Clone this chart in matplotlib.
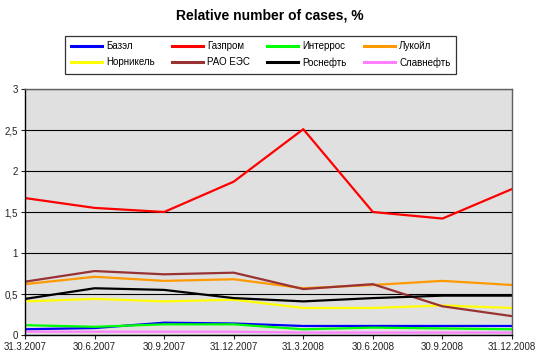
import matplotlib
matplotlib.use("Agg")
import matplotlib.pyplot as plt

plt.rcParams["font.family"] = ["Liberation Sans", "DejaVu Sans"]

dates = ["31.3.2007", "30.6.2007", "30.9.2007", "31.12.2007",
         "31.3.2008", "30.6.2008", "30.9.2008", "31.12.2008"]

bazel = [0.07, 0.085, 0.15, 0.14, 0.11, 0.11, 0.11, 0.11]
gazprom = [1.67, 1.55, 1.50, 1.87, 2.51, 1.50, 1.42, 1.78]
interros = [0.12, 0.10, 0.13, 0.13, 0.07, 0.09, 0.08, 0.07]
lukoil = [0.62, 0.71, 0.66, 0.68, 0.57, 0.61, 0.66, 0.61]
nornikel = [0.41, 0.44, 0.41, 0.43, 0.33, 0.33, 0.36, 0.33]
rao_ees = [0.65, 0.78, 0.74, 0.76, 0.56, 0.62, 0.35, 0.23]
rosneft = [0.44, 0.57, 0.55, 0.45, 0.41, 0.45, 0.48, 0.48]
slavneft = [0.04, 0.04, 0.04, 0.04, 0.03, 0.03, 0.03, 0.03]

series = [
    ("Базэл", bazel, "#0000FF"),
    ("Газпром", gazprom, "#FF0000"),
    ("Интеррос", interros, "#00FF00"),
    ("Лукойл", lukoil, "#FF9900"),
    ("Норникель", nornikel, "#FFFF00"),
    ("РАО ЕЭС", rao_ees, "#993333"),
    ("Роснефть", rosneft, "#000000"),
    ("Славнефть", slavneft, "#FF80FF"),
]

fig = plt.figure(figsize=(5.4, 3.57), dpi=100)
fig.patch.set_facecolor("white")
ax = fig.add_axes([25 / 540, 1 - 335 / 357, (512 - 25) / 540, (335 - 89) / 357])
ax.set_facecolor("#E0E0E0")

x = list(range(len(dates)))
handles = []
for name, vals, col in series:
    ln, = ax.plot(x, vals, color=col, lw=1.6, label=name, solid_joinstyle="round")
    handles.append(ln)

ax.set_xlim(0, len(dates) - 1)
ax.set_ylim(0, 3)
ax.set_yticks([0, 0.5, 1, 1.5, 2, 2.5, 3])
ax.set_yticklabels(["0", "0,5", "1", "1,5", "2", "2,5", "3"])
ax.set_xticks(x)
ax.set_xticklabels(dates)
ax.tick_params(axis="both", labelsize=7, length=3, width=0.8, colors="#222222", pad=2)
ax.grid(axis="y", color="black", lw=0.8)
ax.set_axisbelow(True)
for sp in ax.spines.values():
    sp.set_color("#606060")
    sp.set_linewidth(1.0)
ax.spines["left"].set_color("black")
ax.spines["bottom"].set_color("black")

fig.text(0.5, 1 - 15 / 357, "Relative number of cases, %", ha="center", va="center",
         fontsize=10, fontweight="bold")

# legend fills column by column, reorder so rows read like the original
order = [0, 4, 1, 5, 2, 6, 3, 7]
leg = fig.legend([handles[i] for i in order], [series[i][0] for i in order],
                 loc="center", bbox_to_anchor=(260.5 / 540, 1 - 54.5 / 357), ncol=4,
                 fontsize=7, frameon=True, fancybox=False, handlelength=3.2,
                 columnspacing=1.8, handletextpad=0.4, labelspacing=0.6,
                 borderpad=0.6)
leg.get_frame().set_edgecolor("black")
leg.get_frame().set_linewidth(0.9)
for h in leg.get_lines():
    h.set_linewidth(2.2)

fig.savefig("out.png", dpi=100)
